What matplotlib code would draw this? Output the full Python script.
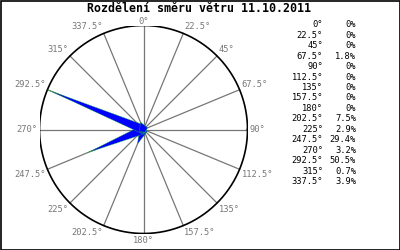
import numpy as np
import matplotlib
matplotlib.use("Agg")
import matplotlib.pyplot as plt

title = "Rozdělení směru větru 11.10.2011"
directions = [0, 22.5, 45, 67.5, 90, 112.5, 135, 157.5,
              180, 202.5, 225, 247.5, 270, 292.5, 315, 337.5]
dir_labels = ["0°", "22.5°", "45°", "67.5°", "90°", "112.5°", "135°", "157.5°",
              "180°", "202.5°", "225°", "247.5°", "270°", "292.5°", "315°", "337.5°"]
percent = [0, 0, 0, 1.8, 0, 0, 0, 0, 0, 7.5, 2.9, 29.4, 3.2, 50.5, 0.7, 3.9]
percent_labels = ["0%", "0%", "0%", "1.8%", "0%", "0%", "0%", "0%", "0%",
                  "7.5%", "2.9%", "29.4%", "3.2%", "50.5%", "0.7%", "3.9%"]

W, H = 400, 250
fig = plt.figure(figsize=(4, 2.5), dpi=100)
fig.patch.set_facecolor("white")

# frame around the whole picture
frame = fig.add_axes([0, 0, 1, 1])
frame.set_xlim(0, W)
frame.set_ylim(H, 0)
frame.axis("off")
frame.add_patch(plt.Rectangle((0.5, 0.5), W - 1, H - 1, fill=False,
                              edgecolor="black", lw=1.2))

# rose area in pixel coordinates
cx, cy, R = 143.5, 129.5, 104
ax = fig.add_axes([(cx - R) / W, (H - cy - R) / H, 2 * R / W, 2 * R / H])
ax.set_xlim(-1, 1)
ax.set_ylim(-1, 1)
ax.axis("off")

mono = "DejaVu Sans Mono"
grey = "#777777"

ang = np.radians(directions)
for a in ang:
    ax.plot([0, np.sin(a)], [0, np.cos(a)], color=grey, lw=0.9, zorder=1)
t = np.linspace(0, 2 * np.pi, 400)
ax.plot(np.cos(t), np.sin(t), color="black", lw=1.2, zorder=2)

# wedges scaled so the biggest one reaches the circle
pmax = max(percent)
hw = 0.042
for a, p in zip(ang, percent):
    if p <= 0:
        continue
    r = p / pmax
    dx, dy = np.sin(a), np.cos(a)
    px, py = -dy, dx
    xs = [r * dx, hw * px, -0.03 * dx, -hw * px]
    ys = [r * dy, hw * py, -0.03 * dy, -hw * py]
    ax.fill(xs, ys, facecolor="#0000ff", edgecolor="#22cc22", lw=0.25,
            zorder=3, clip_on=False)

# direction labels around the circle
for a, lab in zip(directions, dir_labels):
    rad = np.radians(a)
    k = 1.0 if a == 0 else 1.02
    x, y = k * np.sin(rad), k * np.cos(rad)
    if a in (0, 180):
        ha = "center"
    elif a < 180:
        ha = "left"
    else:
        ha = "right"
    if a in (90, 270):
        va = "center"
    elif a < 90 or a > 270:
        va = "bottom"
    else:
        va = "top"
    ax.text(x, y, lab, ha=ha, va=va, fontsize=6.3, family=mono,
            color=grey, clip_on=False)

frame.text(199, 8.5, title, ha="center", va="center", fontsize=8.4,
           family=mono, weight="bold", color="black")

# table on the right
for i, (lab, pl) in enumerate(zip(dir_labels, percent_labels)):
    yy = 24.7 + i * 10.47
    frame.text(323, yy, lab, ha="right", va="center", fontsize=6.3,
               family=mono, color="black")
    frame.text(356, yy, pl, ha="right", va="center", fontsize=6.3,
               family=mono, color="black")

fig.savefig("out.png", dpi=100)
